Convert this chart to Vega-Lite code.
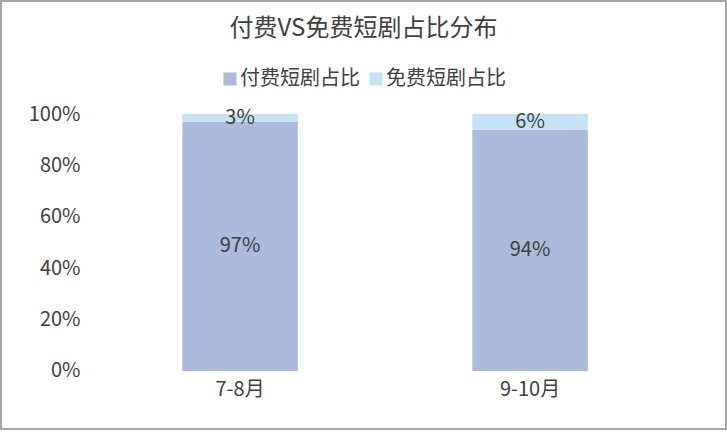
{
  "$schema": "https://vega.github.io/schema/vega-lite/v6.json",
  "width": 725,
  "height": 428,
  "padding": 1,
  "autosize": {"type": "none"},
  "background": "white",
  "title": {
    "text": "付费VS免费短剧占比分布",
    "anchor": "middle",
    "orient": "top",
    "offset": -40,
    "fontSize": 24,
    "fontWeight": "normal",
    "color": "#404040",
    "font": "Noto Sans CJK SC"
  },
  "data": {
    "values": [
      {"period": "7-8月", "type": "付费短剧占比", "share": 0.97},
      {"period": "7-8月", "type": "免费短剧占比", "share": 0.03},
      {"period": "9-10月", "type": "付费短剧占比", "share": 0.94},
      {"period": "9-10月", "type": "免费短剧占比", "share": 0.06}
    ]
  },
  "transform": [
    {
      "stack": "share",
      "groupby": ["period"],
      "sort": [{"field": "type", "order": "ascending"}],
      "as": ["y0", "y1"]
    },
    {"calculate": "(datum.y0 + datum.y1) / 2", "as": "ymid"}
  ],
  "encoding": {
    "x": {
      "field": "period",
      "type": "nominal",
      "sort": ["7-8月", "9-10月"],
      "scale": {"paddingInner": 0.6017, "paddingOuter": 0.55085, "align": 0.5675, "round": false},
      "axis": {
        "orient": "bottom",
        "offset": -58,
        "domain": false,
        "ticks": false,
        "tickSize": 0,
        "labelPadding": 8,
        "labelAngle": 0,
        "title": null,
        "grid": false,
        "labelFontSize": 20,
        "labelColor": "#404040",
        "labelFont": "Noto Sans CJK SC"
      }
    }
  },
  "layer": [
    {
      "mark": {"type": "bar"},
      "encoding": {
        "y": {
          "field": "y1",
          "type": "quantitative",
          "scale": {"domain": [-0.2257, 1.4397], "nice": false, "zero": false},
          "axis": {
            "orient": "left",
            "offset": -87,
            "values": [0, 0.2, 0.4, 0.6, 0.8, 1],
            "format": ".0%",
            "domain": false,
            "ticks": false,
            "tickSize": 0,
            "labelPadding": 8,
            "grid": false,
            "title": null,
            "labelFontSize": 20,
            "labelColor": "#404040",
            "labelFont": "Noto Sans CJK SC"
          }
        },
        "y2": {"field": "y0"},
        "color": {
          "field": "type",
          "type": "nominal",
          "sort": ["付费短剧占比", "免费短剧占比"],
          "scale": {"domain": ["付费短剧占比", "免费短剧占比"], "range": ["#ABBBDB", "#C4E4F5"]},
          "legend": {
            "orient": "none",
            "legendX": 219,
            "legendY": 68,
            "direction": "horizontal",
            "title": null,
            "symbolType": "square",
            "symbolSize": 169,
            "symbolStrokeWidth": 0,
            "labelFontSize": 20,
            "labelColor": "#404040",
            "labelFont": "Noto Sans CJK SC",
            "labelOffset": 0,
            "columnPadding": 6,
            "padding": 0
          }
        }
      }
    },
    {
      "mark": {"type": "text", "baseline": "middle", "fontSize": 20, "color": "#404040", "font": "Noto Sans CJK SC"},
      "encoding": {
        "y": {"field": "ymid", "type": "quantitative"},
        "text": {"field": "share", "type": "quantitative", "format": ".0%"}
      }
    }
  ],
  "config": {
    "view": {"stroke": "#a6a6a6", "strokeWidth": 2}
  }
}
